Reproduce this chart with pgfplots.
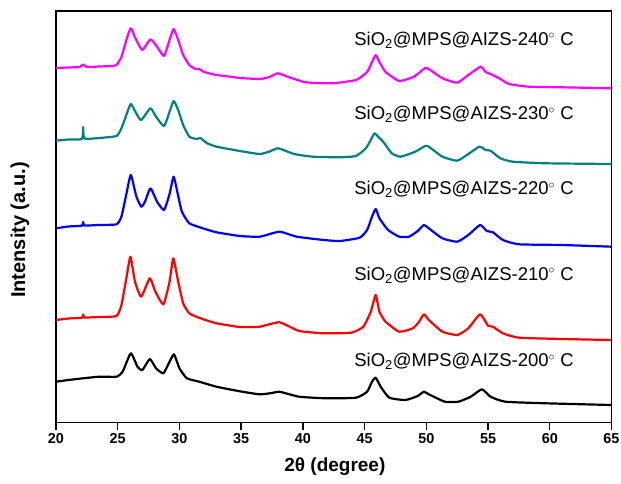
\documentclass[border=0pt]{standalone}
\usepackage{pgfplots}
\pgfplotsset{compat=1.18}
\usepackage{fontspec}
\setmainfont{Liberation Sans}

\definecolor{c240}{RGB}{255,0,255}
\definecolor{c230}{RGB}{0,128,128}
\definecolor{c220}{RGB}{0,0,255}
\definecolor{c210}{RGB}{255,0,0}
\definecolor{c200}{RGB}{0,0,0}

\begin{document}
\begin{tikzpicture}
\path[use as bounding box] (-56pt,-60.3pt) rectangle (565pt,422.7pt);
\begin{axis}[
  at={(0,0)}, anchor=south west,
  scale only axis, width=555.5pt, height=411.7pt,
  xmin=20, xmax=65, ymin=1.3, ymax=413,
  xtick={20,25,...,65}, ytick=\empty,
  xtick pos=left, tick align=outside,
  major tick length=7pt,
  axis line style={line width=1.4pt},
  every tick/.style={line width=1.4pt, black},
  /pgf/number format/assume math mode=true,
  ticklabel style={font=\fontsize{14.4}{16}\selectfont\bfseries},
  xlabel={2θ (degree)}, ylabel={Intensity (a.u.)},
  xlabel style={font=\fontsize{19}{22}\selectfont\bfseries,
    at={(axis description cs:0.502,-0.1069)}, anchor=center},
  ylabel style={font=\fontsize{20}{22}\selectfont\bfseries,
    at={(axis description cs:-0.0648,0.468)}, anchor=center},
  every axis plot/.append style={line width=2.2pt, line join=round, smooth, tension=0.3},
]
% 240 C
\addplot[c240] coordinates {
(20.0,356) (21.0,356.5) (21.9,357) (22.2,359.5) (22.5,357) (23.5,357.5) (24.5,358)
(24.9,359) (25.3,367) (25.7,384) (26.06,395.7) (26.5,384) (27.0,374) (27.65,384.7)
(28.2,377) (28.75,368) (29.2,384) (29.53,395) (29.9,384) (30.3,369) (30.8,359)
(31.3,355) (31.6,355) (32.0,352) (33.0,349) (34.0,347.5) (34.9,346) (36.5,345)
(37.3,347) (37.96,350.7) (38.9,346.7) (40.25,341.7) (42.4,340.7) (44.3,344)
(45.2,352) (45.6,362) (45.9,369) (46.2,362) (46.7,352) (47.8,343) (48.9,346.7)
(49.4,351) (49.9,356) (50.2,355) (51.3,345.7) (52.5,341.3) (53.4,349) (54.4,357.3)
(54.8,352) (55.2,350) (55.9,345.7) (56.7,340) (58.3,337.3) (61.0,336.7) (65.0,335.7)
};
% 230 C
\addplot[c230] coordinates {
(20.0,283.3) (21.0,284.5) (22.1,285) (22.2,297) (22.3,285.5) (23.5,286) (24.9,288)
(25.3,295.7) (25.7,309) (26.06,320) (26.5,310.7) (26.9,304) (27.65,315.7) (28.1,307.3)
(28.75,298) (29.2,312.3) (29.53,323) (29.9,314) (30.3,299) (30.8,287.3) (31.4,285)
(31.7,286) (32.2,281) (33.0,277.3) (34.9,273) (36.5,270) (37.3,272.5) (38.0,275.7)
(39.3,270) (40.8,267.3) (43.0,266.7) (44.3,268) (45.1,275.7) (45.5,284) (45.8,290.7)
(46.1,287.3) (46.5,282.3) (47.2,270.7) (47.9,267.3) (49.1,272.3) (49.9,278)
(50.2,277.3) (51.3,267.3) (52.5,263.3) (53.4,270) (54.3,277.3) (54.8,274) (55.2,273.3)
(56.0,265.7) (57.0,262.3) (59.7,260.7) (65.0,260)
};
% 220 C
\addplot[c220] coordinates {
(20.0,195.7) (21.0,197.5) (22.1,198.3) (22.2,202) (22.3,198.5) (23.5,199) (24.9,199.7)
(25.3,207.3) (25.7,230) (26.06,249) (26.5,228) (26.9,217.3) (27.2,222) (27.65,235.7)
(28.2,222) (28.75,214) (29.2,230) (29.53,247.3) (29.9,228) (30.2,212.3) (30.8,200.7)
(31.9,195.7) (33.0,191.7) (34.9,188) (36.5,187.3) (38.1,192.3) (39.5,187.3)
(41.7,184) (43.0,183) (44.6,186.3) (45.2,194) (45.6,207.3) (45.9,215) (46.2,205.7)
(46.9,194) (47.8,187.3) (48.6,187.3) (49.3,193) (49.8,199) (50.2,195.7) (51.3,185.7)
(52.5,182.3) (53.4,189) (54.35,199) (54.9,193) (55.4,191.7) (56.2,184) (57.5,179.7)
(61.0,179) (65.0,177.3)
};
% 210 C
\addplot[c210] coordinates {
(20.0,104) (21.0,105.5) (22.1,106.3) (22.2,109.5) (22.3,106.5) (23.5,107) (24.9,108)
(25.3,119) (25.7,145.7) (26.03,167.3) (26.4,142.3) (26.9,127.3) (27.6,145.7)
(28.05,132.3) (28.7,119.7) (29.2,142.3) (29.5,165.7) (29.9,142.3) (30.3,120.7)
(30.8,110.7) (31.7,105.7) (33.0,100.7) (34.9,97) (36.5,97.3) (38.1,101.7) (39.7,93)
(41.7,90.7) (43.9,91.3) (44.9,97.3) (45.5,112.3) (45.9,129) (46.2,112.3) (46.7,102.3)
(47.8,92.3) (48.9,95.7) (49.4,102) (49.8,109.7) (50.2,104) (51.3,92.3) (52.5,89)
(53.4,95.7) (54.35,109.7) (55.0,98.3) (55.4,97.3) (56.2,90.7) (57.5,86.3) (61.0,85)
(65.0,84)
};
% 200 C
\addplot[c200] coordinates {
(20.0,42.3) (21.0,44) (22.2,45.7) (23.5,47.3) (24.9,47.3) (25.4,52.3) (26.06,70.7)
(26.6,57.3) (27.0,54) (27.6,65) (28.1,55.7) (28.7,50.7) (29.2,62.3) (29.56,69.7)
(30.0,55.7) (30.6,45.7) (31.6,42.3) (33.0,37.3) (34.9,32.7) (36.5,29.7) (37.5,31)
(38.1,32.3) (39.7,27.3) (41.9,25.7) (44.3,26.3) (45.2,32.3) (45.6,42.3) (45.9,46.3)
(46.3,37.3) (47.0,26.3) (48.3,24) (49.3,28) (49.8,32.3) (50.2,29.7) (51.5,22.3)
(52.6,22.3) (53.6,27.3) (54.5,34.7) (55.2,27.3) (56.4,22.3) (59.7,20.7) (65.0,19)
};
\begin{scope}[every node/.style={anchor=base west, inner sep=0pt, font=\fontsize{18.5}{20}\selectfont}]
\node at (axis cs:44.15,379)   {SiO\textsubscript{2}@MPS@AIZS-240$^{\circ}$ C};
\node at (axis cs:44.15,304.7) {SiO\textsubscript{2}@MPS@AIZS-230$^{\circ}$ C};
\node at (axis cs:44.15,229.7) {SiO\textsubscript{2}@MPS@AIZS-220$^{\circ}$ C};
\node at (axis cs:44.15,144)   {SiO\textsubscript{2}@MPS@AIZS-210$^{\circ}$ C};
\node at (axis cs:44.15,57.3)  {SiO\textsubscript{2}@MPS@AIZS-200$^{\circ}$ C};
\end{scope}
\end{axis}
\end{tikzpicture}
\end{document}
